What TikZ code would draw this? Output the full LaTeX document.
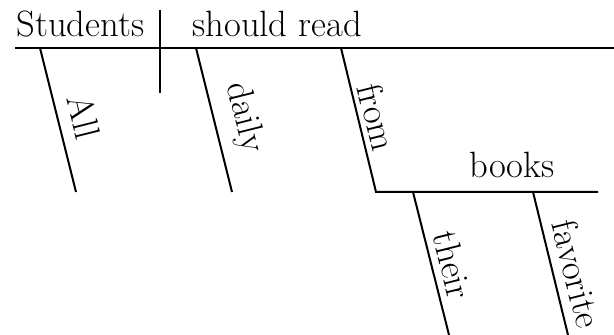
\documentclass[tikz,border=0pt]{standalone}
\begin{document}
\begin{tikzpicture}[x={(0.5pt,0)},y={(0,-0.5pt)},
  rk/.style={line width=1pt},
  word/.style={inner sep=0pt,font=\rmfamily\fontsize{18.3}{22}\selectfont},
  slant/.style={word,rotate=-76,anchor=center}]
\useasboundingbox (0,0) rectangle (614,335);
% coordinates
\coordinate (mL) at (15,48);
\coordinate (mR) at (614,48);
\coordinate (dT) at (160,10);
\coordinate (dB) at (160,93);
\coordinate (aT) at (40,48);
\coordinate (aB) at (76,192);
\coordinate (yT) at (196,48);
\coordinate (yB) at (232,192);
\coordinate (fT) at (341,48);
\coordinate (fB) at (376,192);
\coordinate (bR) at (598,192);
\coordinate (tT) at (413,192);
\coordinate (tB) at (449,335);
\coordinate (vT) at (533,192);
\coordinate (vB) at (568,335);
% lines
\draw[rk] (mL) -- (mR);
\draw[rk] (dT) -- (dB);
\draw[rk] (aT) -- (aB);
\draw[rk] (yT) -- (yB);
\draw[rk] (fT) -- (fB) -- (bR);
\draw[rk] (tT) -- (tB);
\draw[rk] (vT) -- (vB);
% words
\node[word,anchor=base west] (students) at (16,37) {Students};
\node[word,anchor=base west] (should) at (192,37) {should read};
\node[word,anchor=base west] (books) at (469,178) {books};
\node[slant] (all) at (84,117) {All};
\node[slant] (daily) at (244,118) {daily};
\node[slant] (from) at (377,117) {from};
\node[slant] (their) at (453,265) {their};
\node[slant] (fav) at (577,274) {favorite};
\end{tikzpicture}
\end{document}
